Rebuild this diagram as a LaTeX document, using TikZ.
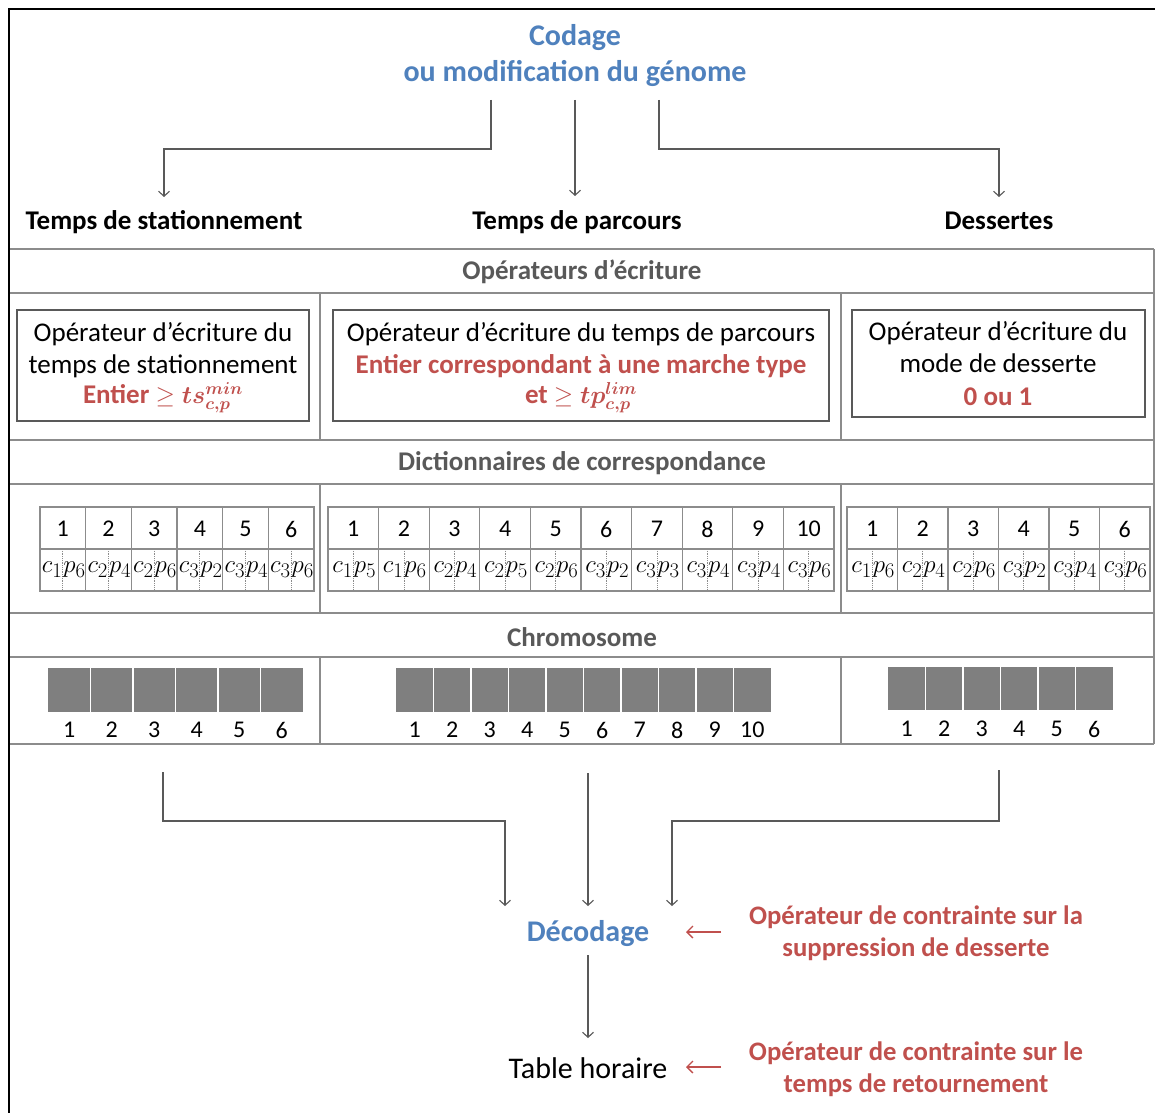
\documentclass[tikz,border=0pt]{standalone}
\usepackage{fontspec}
\setmainfont{Carlito}
\usepackage{bm}
\usetikzlibrary{arrows.meta}
\definecolor{cblue}{HTML}{4F81BD}
\definecolor{cred}{HTML}{C0504D}
\definecolor{cgray}{HTML}{595959}
\definecolor{lgray}{HTML}{7F7F7F}
\definecolor{tgray}{HTML}{8C8C8C}
\begin{document}
\begin{tikzpicture}[x=1pt,y=-1pt,
  conn/.style={draw=cgray,line width=1.1pt,-{Straight Barb[length=5pt,width=11pt]}},
  redarr/.style={draw=cred,line width=1.3pt,-{Straight Barb[length=6pt,width=12pt]}},
  tab/.style={draw=tgray,line width=1.3pt},
  cell/.style={draw=tgray,line width=1.2pt},
  box/.style={draw=cgray,line width=1.2pt},
  head/.style={font=\fontsize{27}{30}\selectfont\bfseries,text=cgray,inner sep=0pt},
  cat/.style={font=\fontsize{27}{30}\selectfont\bfseries,inner sep=0pt},
  btxt/.style={font=\fontsize{27}{32.5}\selectfont,align=center,inner sep=0pt},
  num/.style={font=\fontsize{24}{26}\selectfont,inner sep=0pt},
  mth/.style={font=\fontsize{28}{28}\selectfont,inner sep=0.3pt},
  rtxt/.style={font=\fontsize{26.7}{31.5}\selectfont\bfseries,text=cred,align=center,inner sep=0pt},
  block/.style={fill=lgray,draw=white,line width=1.5pt}]
\useasboundingbox (0,0) rectangle (1155,1113);
\fill[white] (0,0) rectangle (1155,1113);
% outer frame
\draw[black,line width=2pt] (1155,9) -- (9,9) -- (9,1113);
% title
\node[font=\fontsize{30}{36}\selectfont\bfseries,text=cblue,align=center,inner sep=0pt] (codage) at (575,56) {Codage\\ou modification du génome};
% categories
\node[cat] (ts) at (164,222) {Temps de stationnement};
\node[cat] (tp) at (577,222) {Temps de parcours};
\node[cat] (ds) at (999,221) {Dessertes};
\coordinate (cL) at (491,100);
\coordinate (cM) at (575,100);
\coordinate (cR) at (659,100);
\draw[conn] (cL) |- (300,149) -| (164,197);
\draw[conn] (cM) -- (575,196);
\draw[conn] (cR) |- (800,149) -| (999,197);
% table frame
\draw[tab] (10,249) -- (1154,249);
\draw[tab] (10,293) -- (1154,293);
\draw[tab] (10,440) -- (1154,440);
\draw[tab] (10,484) -- (1154,484);
\draw[tab] (10,613) -- (1154,613);
\draw[tab] (10,657) -- (1154,657);
\draw[tab] (10,744) -- (1154,744);
\draw[tab] (1154,249) -- (1154,744);
\draw[tab] (320,293) -- (320,440) (841,293) -- (841,440);
\draw[tab] (320,484) -- (320,613) (841,484) -- (841,613);
\draw[tab] (320,657) -- (320,744) (841,657) -- (841,744);
% headers
\node[head] (h1) at (582,272) {Opérateurs d’écriture};
\node[head] (h2) at (582,463) {Dictionnaires de correspondance};
\node[head] (h3) at (582,637) {Chromosome};
% operator boxes
\draw[box] (17,310) rectangle (309,421);
\draw[box] (333,310) rectangle (829,421);
\draw[box] (852,310) rectangle (1145,417);
\node[btxt,anchor=north] (o1) at (163,322) {Opérateur d’écriture du\\temps de stationnement\\[-3pt]\textcolor{cred}{\bfseries Entier $\geq \bm{ts_{c,p}^{min}}$}};
\node[btxt,anchor=north] (o2) at (581,322) {Opérateur d’écriture du temps de parcours\\\textcolor{cred}{\bfseries Entier correspondant à une marche type}\\[-3pt]\textcolor{cred}{\bfseries et $\geq \bm{tp_{c,p}^{lim}}$}};
\node[btxt,anchor=north] (o3) at (998,321) {Opérateur d’écriture du\\mode de desserte\\\textcolor{cred}{\bfseries 0 ou 1}};
% dictionary table 1
\foreach \c/\p [count=\k] in {1/6,2/4,2/6,3/2,3/4,3/6} {
  \pgfmathsetmacro\xa{40+(\k-1)*45.67}
  \pgfmathsetmacro\xm{\xa+22.83}
  \draw[cell] (\xa,507) rectangle +(45.67,42);
  \draw[cell] (\xa,549) rectangle +(45.67,42);
  \draw[tgray,densely dotted,line width=0.8pt] (\xm,549) -- (\xm,591);
  \node[num] (aN\k) at (\xm,529) {\k};
  \node[mth,anchor=east] (aC\k) at (\xm,570) {$c_{\c}$};
  \node[mth,anchor=west] (aP\k) at (\xm,570) {$p_{\p}$};
}
% dictionary table 2
\foreach \c/\p [count=\k] in {1/5,1/6,2/4,2/5,2/6,3/2,3/3,3/4,3/4,3/6} {
  \pgfmathsetmacro\xa{328+(\k-1)*50.6}
  \pgfmathsetmacro\xm{\xa+25.3}
  \draw[cell] (\xa,507) rectangle +(50.6,42);
  \draw[cell] (\xa,549) rectangle +(50.6,42);
  \draw[tgray,densely dotted,line width=0.8pt] (\xm,549) -- (\xm,591);
  \node[num] (bN\k) at (\xm,529) {\k};
  \node[mth,anchor=east] (bC\k) at (\xm,570) {$c_{\c}$};
  \node[mth,anchor=west] (bP\k) at (\xm,570) {$p_{\p}$};
}
% dictionary table 3
\foreach \c/\p [count=\k] in {1/6,2/4,2/6,3/2,3/4,3/6} {
  \pgfmathsetmacro\xa{847+(\k-1)*50.5}
  \pgfmathsetmacro\xm{\xa+25.25}
  \draw[cell] (\xa,507) rectangle +(50.5,42);
  \draw[cell] (\xa,549) rectangle +(50.5,42);
  \draw[tgray,densely dotted,line width=0.8pt] (\xm,549) -- (\xm,591);
  \node[num] (cN\k) at (\xm,529) {\k};
  \node[mth,anchor=east] (cC\k) at (\xm,570) {$c_{\c}$};
  \node[mth,anchor=west] (cP\k) at (\xm,570) {$p_{\p}$};
}
% chromosomes
\foreach \k in {1,...,6} {
  \pgfmathsetmacro\xa{48+(\k-1)*42.5}
  \fill[lgray] (\xa,668) rectangle +(42.5,44);
  \node[num] (gA\k) at (\xa+21.25,730) {\k};
}
\foreach \k in {1,...,5} {\draw[white,line width=1.5pt] (48+\k*42.5,668) -- (48+\k*42.5,712);}
\foreach \k in {1,...,10} {
  \pgfmathsetmacro\xa{396+(\k-1)*37.5}
  \fill[lgray] (\xa,668) rectangle +(37.5,44);
  \node[num] (gB\k) at (\xa+18.75,730) {\k};
}
\foreach \k in {1,...,9} {\draw[white,line width=1.5pt] (396+\k*37.5,668) -- (396+\k*37.5,712);}
\foreach \k in {1,...,6} {
  \pgfmathsetmacro\xa{888+(\k-1)*37.5}
  \fill[lgray] (\xa,667) rectangle +(37.5,43);
  \node[num] (gC\k) at (\xa+18.75,729) {\k};
}
\foreach \k in {1,...,5} {\draw[white,line width=1.5pt] (888+\k*37.5,667) -- (888+\k*37.5,710);}
% decoding
\node[font=\fontsize{30}{32}\selectfont\bfseries,text=cblue,inner sep=0pt] (dec) at (588,934) {Décodage};
\node[font=\fontsize{30}{32}\selectfont,inner sep=0pt] (tab) at (588,1068) {Table horaire};
\coordinate (sL) at (163,772);
\coordinate (sM) at (588,773);
\coordinate (sR) at (999,770);
\draw[conn] (sL) |- (300,821) -| (505,906);
\draw[conn] (sM) -- (588,906);
\draw[conn] (sR) |- (800,821) -| (672,906);
\draw[conn] (588,955) -- (588,1038);
% red constraint operators
\node[rtxt] (r1) at (916,933) {Opérateur de contrainte sur la\\suppression de desserte};
\node[rtxt] (r2) at (916,1069) {Opérateur de contrainte sur le\\temps de retournement};
\draw[redarr] (721,932) -- (686,932);
\draw[redarr] (721,1067) -- (686,1067);
\end{tikzpicture}
\end{document}
